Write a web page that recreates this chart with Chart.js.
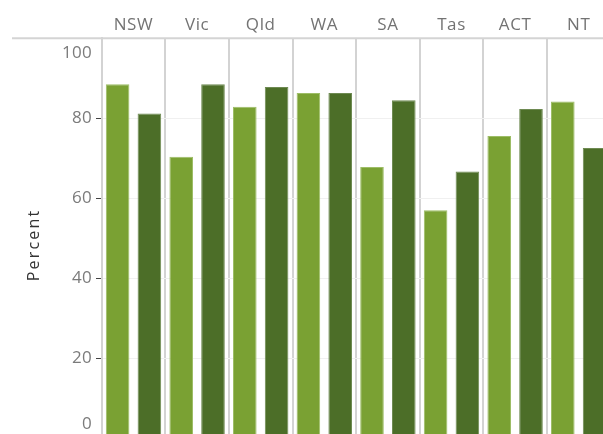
<!DOCTYPE html>
<html>
<head>
<meta charset="utf-8">
<script src="https://cdn.jsdelivr.net/npm/chart.js@4.4.1/dist/chart.umd.min.js"></script>
<style>
  html, body { margin: 0; padding: 0; background: #fff; overflow: hidden; }
  #wrap { position: absolute; left: 0; top: 0; width: 620px; height: 440px; }
</style>
</head>
<body>
<div id="wrap"><canvas id="barChart" width="620" height="440"></canvas></div>
<script>
const states = ["NSW", "Vic", "Qld", "WA", "SA", "Tas", "ACT", "NT"];
const seriesA = [88.5, 70.4, 82.9, 86.3, 67.8, 57.0, 75.6, 84.2];
const seriesB = [81.2, 88.5, 87.8, 86.3, 84.5, 66.7, 82.3, 72.6];
const yTicks = [0, 20, 40, 60, 80, 100];
const yTitle = "Percent";

const FONT = "'Open Sans', 'DejaVu Sans', sans-serif";

// draws the bits tableau-style axes have that chart.js doesn't: top rule,
// clamped tick labels, little tick dashes and the spaced-out title
const tableauAxis = {
  id: 'tableauAxis',
  beforeDraw(chart) {
    chart.ctx.letterSpacing = '0.6px';
  },
  afterDraw(chart) {
    const ctx = chart.ctx;
    const area = chart.chartArea;
    const y = chart.scales.y;
    ctx.save();
    ctx.strokeStyle = '#d4d4d4';
    ctx.lineWidth = 2;
    ctx.beginPath();
    ctx.moveTo(12, area.top);
    ctx.lineTo(chart.width, area.top);
    ctx.stroke();

    ctx.font = '17px ' + FONT;
    ctx.letterSpacing = '0.3px';
    ctx.fillStyle = '#7b7b7b';
    ctx.textAlign = 'right';
    ctx.textBaseline = 'middle';
    yTicks.forEach(v => {
      let py = y.getPixelForValue(v);
      let ly = Math.min(Math.max(py, area.top + 14.5), area.bottom - 14.5);
      ctx.fillText(String(v), 92, ly);
      if (v > 0 && v < 100) {
        ctx.strokeStyle = '#444';
        ctx.lineWidth = 1;
        ctx.beginPath();
        ctx.moveTo(96, Math.round(py) + 0.5);
        ctx.lineTo(101, Math.round(py) + 0.5);
        ctx.stroke();
      }
    });

    ctx.translate(34, 245);
    ctx.rotate(-Math.PI / 2);
    ctx.font = '16px ' + FONT;
    ctx.letterSpacing = '2.2px';
    ctx.fillStyle = '#333';
    ctx.textAlign = 'center';
    ctx.textBaseline = 'middle';
    ctx.fillText(yTitle, 0, 0);
    ctx.restore();
  }
};

const CHART = document.getElementById("barChart");
let barChart = new Chart(CHART, {
  type: 'bar',
  data: {
    labels: states,
    datasets: [
      {
        label: "A",
        data: seriesA,
        backgroundColor: "#7aa133",
        borderColor: "#9dbd66",
        borderWidth: 1,
        categoryPercentage: 1,
        barPercentage: 0.742
      },
      {
        label: "B",
        data: seriesB,
        backgroundColor: "#4c6e28",
        borderColor: "#6e8a52",
        borderWidth: 1,
        categoryPercentage: 1,
        barPercentage: 0.742
      }
    ]
  },
  options: {
    responsive: false,
    animation: false,
    devicePixelRatio: 1,
    layout: { padding: { left: 0, top: 0, right: 9.5, bottom: 1.7 } },
    plugins: { legend: { display: false }, tooltip: { enabled: false } },
    scales: {
      x: {
        position: 'top',
        grid: { offset: true, color: '#d3d3d3', lineWidth: 2, drawTicks: false },
        border: { display: false },
        ticks: { font: { size: 17, family: FONT }, color: '#737373', padding: 3 },
        afterFit: s => { s.height = 38.3; }
      },
      y: {
        min: 0,
        max: 100,
        grid: { color: '#f0f0f0', lineWidth: 1, drawTicks: false },
        border: { display: true, color: '#d3d3d3', width: 2 },
        ticks: { display: false, stepSize: 20 },
        afterFit: s => { s.width = 101.7; }
      }
    }
  },
  plugins: [tableauAxis]
});
</script>
</body>
</html>
